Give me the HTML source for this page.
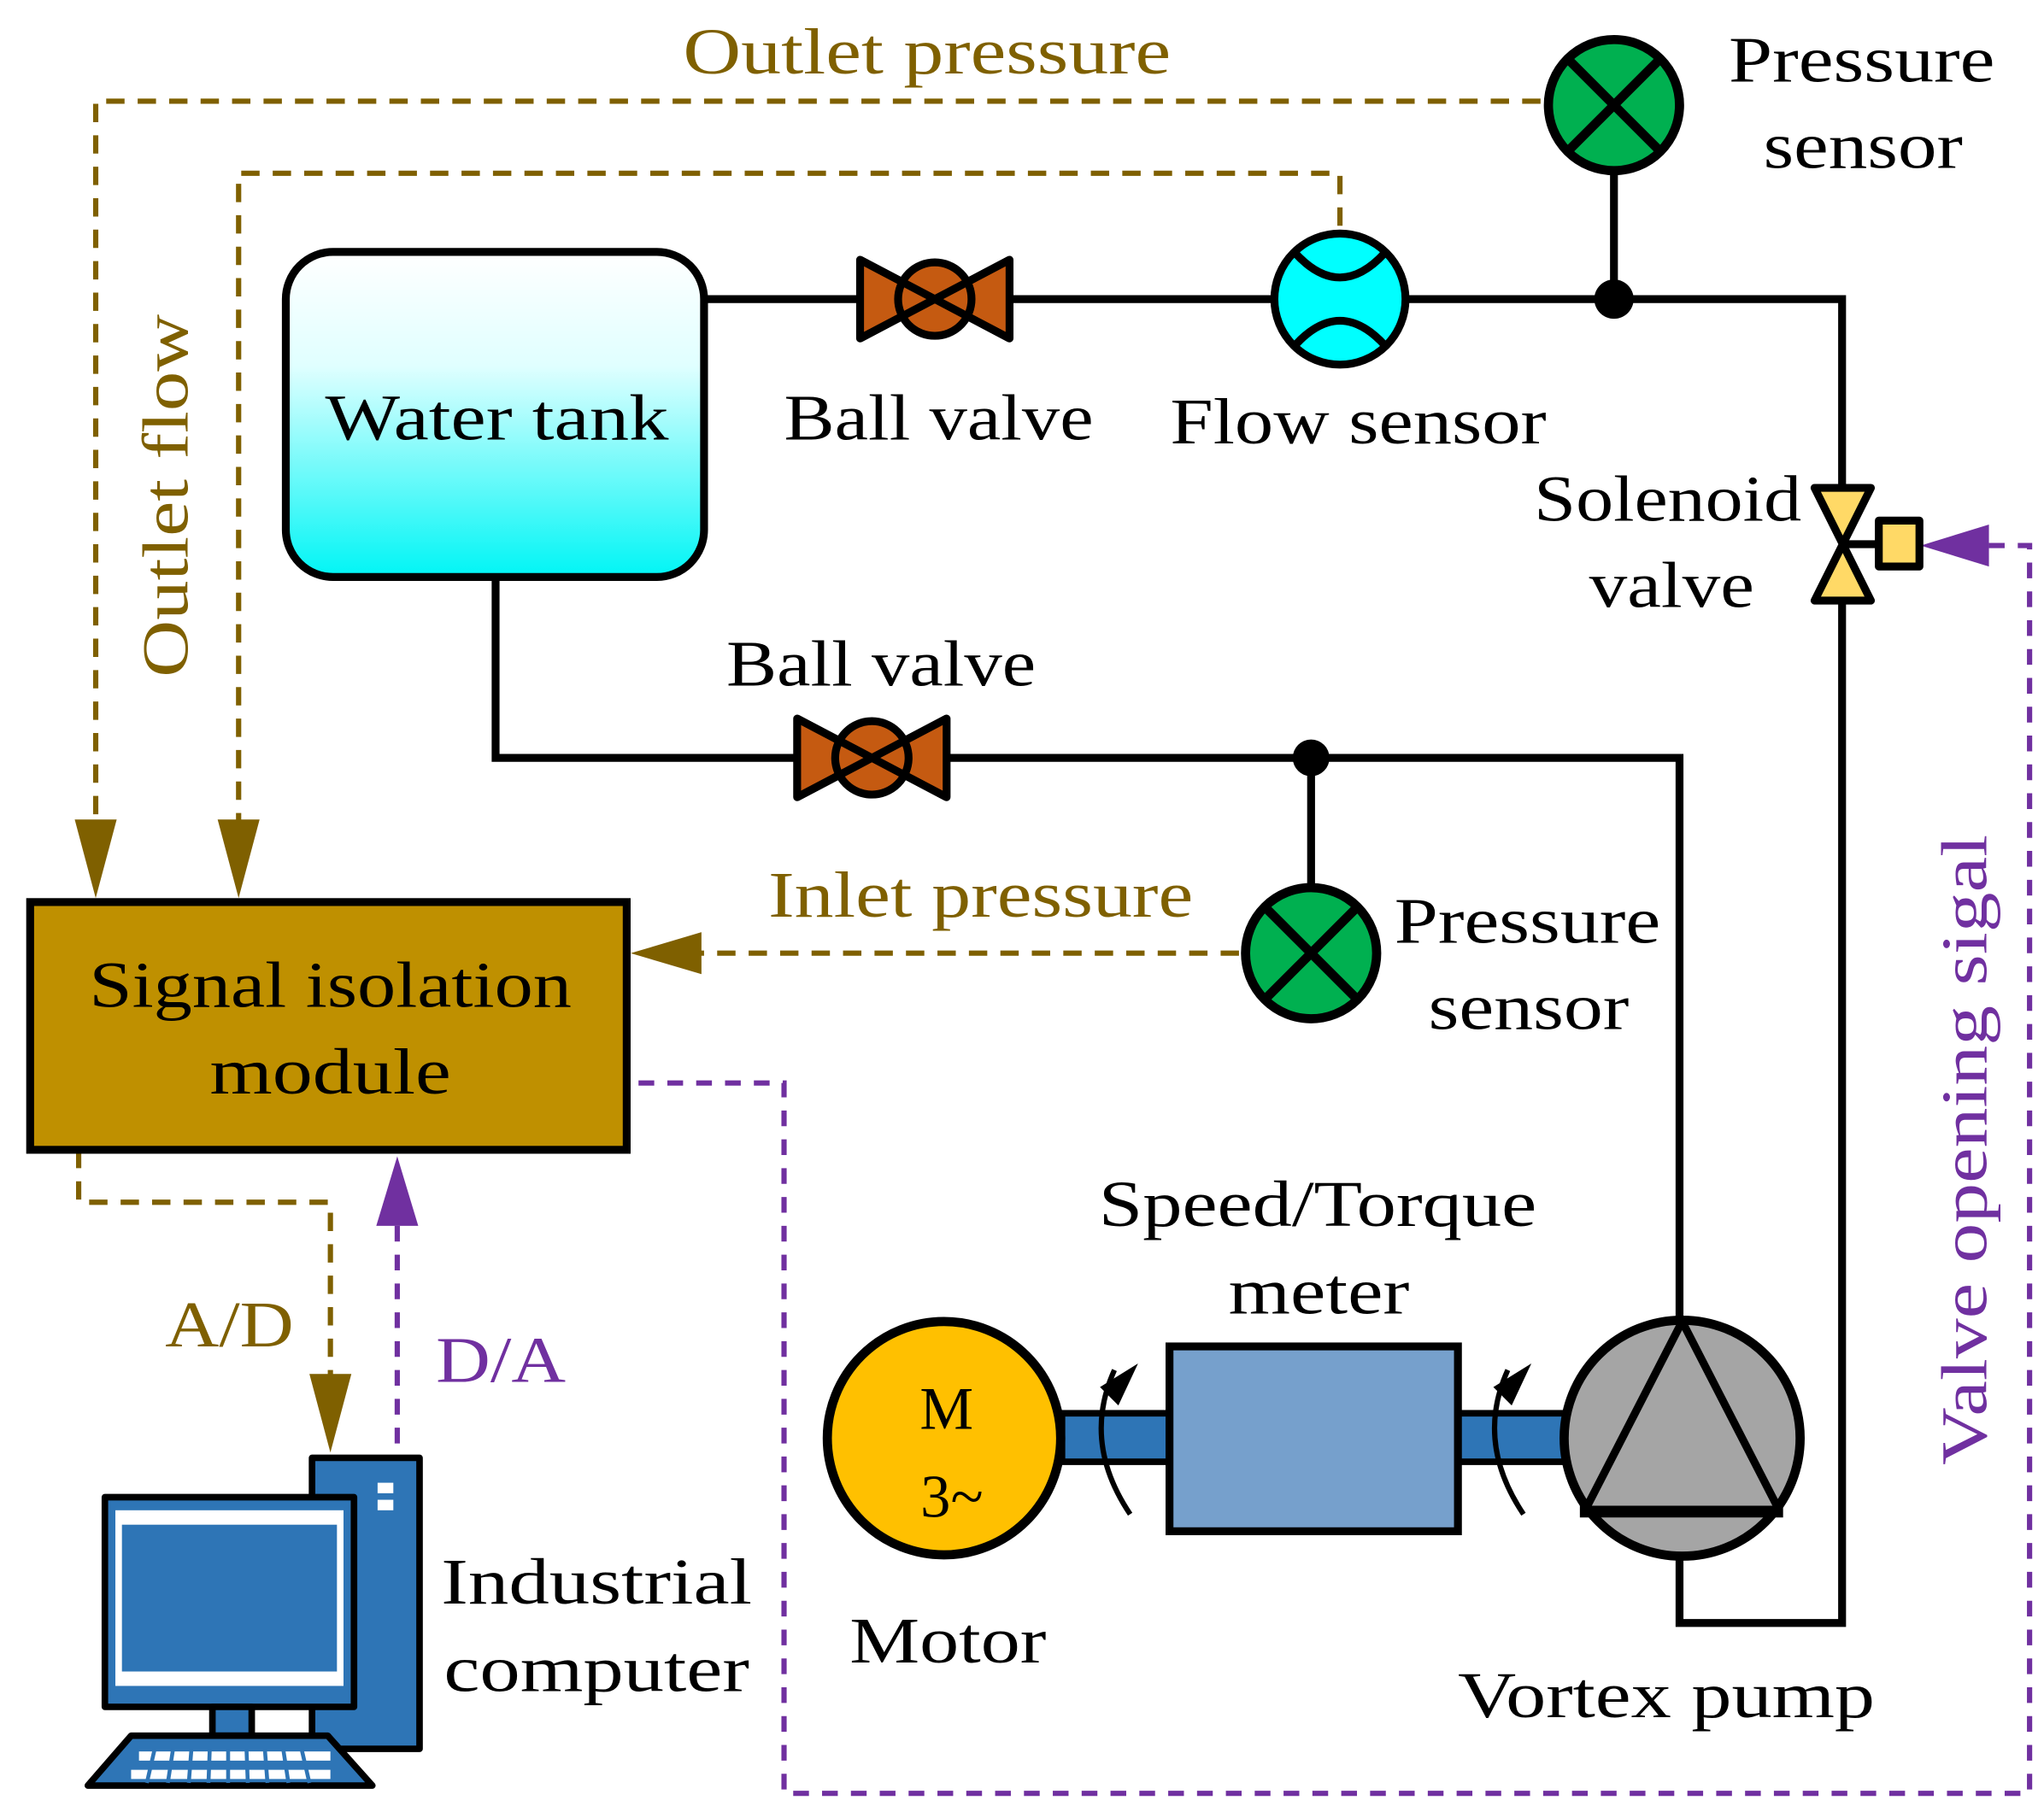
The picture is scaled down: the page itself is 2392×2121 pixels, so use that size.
<!DOCTYPE html>
<html><head><meta charset="utf-8"><style>
html,body{margin:0;padding:0;background:#fff;}
svg{display:block;}
text{font-family:"Liberation Serif",serif;}
</style></head><body>
<svg width="2392" height="2121" viewBox="0 0 1559 1382" xmlns="http://www.w3.org/2000/svg">
<defs>
<linearGradient id="tk" x1="0" y1="0" x2="0" y2="1">
<stop offset="0" stop-color="#ffffff"/><stop offset="0.35" stop-color="#e0ffff"/><stop offset="1" stop-color="#00f5f5"/>
</linearGradient>
</defs>
<g stroke="#000" stroke-width="6" fill="none" stroke-linejoin="miter">
<polyline points="537,228 1405,228 1405,370"/>
<polyline points="1405,460 1405,1238 1281,1238 1281,1190"/>
<polyline points="378,440 378,578 1281,578 1281,1005"/>
<line x1="1231" y1="228" x2="1231" y2="130"/>
<line x1="1000" y1="578" x2="1000" y2="676"/>
</g>
<circle cx="1231" cy="228" r="15" fill="#000"/>
<circle cx="1000" cy="578" r="14" fill="#000"/>

<g stroke="#7f6000" stroke-width="4" fill="none" stroke-dasharray="14,10">
<polyline points="1175,77 73,77 73,630"/>
<polyline points="1022,172 1022,132 182,132 182,630"/>
<line x1="945" y1="727" x2="530" y2="727"/>
<polyline points="60,877 60,917 252,917 252,1050"/>
</g>
<g fill="#7f6000">
<polygon points="57,625 89,625 73,685"/>
<polygon points="166,625 198,625 182,685"/>
<polygon points="535,711 535,743 481,727"/>
<polygon points="236,1048 268,1048 252,1108"/>
</g>
<g stroke="#7030a0" stroke-width="4" fill="none" stroke-dasharray="12,10">
<polyline points="1517,416 1548,416 1548,1368 598,1368 598,826 485,826"/>
<line x1="303" y1="935" x2="303" y2="1110"/>
</g>
<g fill="#7030a0">
<polygon points="1517,400 1517,432 1465,416"/>
<polygon points="287,935 319,935 303,882"/>
</g>

<rect x="218" y="192" width="319" height="248" rx="36" fill="url(#tk)" stroke="#000" stroke-width="6"/>

<g stroke="#000" stroke-width="6" stroke-linejoin="round" fill="#c55a11">
<polygon points="656,198 656,258 770,198 770,258"/>
<circle cx="713" cy="228" r="28"/>
<line x1="656" y1="198" x2="770" y2="258"/><line x1="656" y1="258" x2="770" y2="198"/>
</g>
<g stroke="#000" stroke-width="6" stroke-linejoin="round" fill="#c55a11">
<polygon points="608,548 608,608 722,548 722,608"/>
<circle cx="665" cy="578" r="28"/>
<line x1="608" y1="548" x2="722" y2="608"/><line x1="608" y1="608" x2="722" y2="548"/>
</g>
<g stroke="#000" stroke-width="6" fill="#00ffff">
<circle cx="1022" cy="228" r="50"/>
<path d="M988,193 Q1022,230 1056,193" fill="none"/>
<path d="M988,263 Q1022,226 1056,263" fill="none"/>
</g>
<g stroke="#000" stroke-width="7" fill="#00b050">
<circle cx="1231" cy="80" r="50"/>
<line x1="1196" y1="45" x2="1266" y2="115"/><line x1="1196" y1="115" x2="1266" y2="45"/>
<circle cx="1000" cy="727" r="50"/>
<line x1="965" y1="692" x2="1035" y2="762"/><line x1="965" y1="762" x2="1035" y2="692"/>
</g>
<g stroke="#000" stroke-width="6" stroke-linejoin="round" fill="#ffd966">
<polygon points="1384,372 1427,372 1384,458 1427,458"/>
<line x1="1405" y1="415" x2="1433" y2="415"/>
<rect x="1433" y="397" width="31" height="35"/>
</g>

<rect x="23" y="688" width="455" height="189" fill="#bf9000" stroke="#000" stroke-width="6"/>

<rect x="810" y="1078" width="385" height="37" fill="#2e75b6" stroke="#000" stroke-width="5"/>
<circle cx="720" cy="1097" r="89" fill="#ffc000" stroke="#000" stroke-width="7"/>
<rect x="892" y="1027" width="220" height="141" fill="#76a0cc" stroke="#000" stroke-width="6"/>
<g stroke="#000" stroke-width="4" fill="none">
<path d="M862,1155 Q825,1100 850,1045"/>
<path d="M1162,1155 Q1125,1100 1150,1045"/>
</g>
<polygon points="839,1058 868,1040 853,1072" fill="#000"/>
<polygon points="1139,1058 1168,1040 1153,1072" fill="#000"/>
<circle cx="1283" cy="1097" r="90" fill="#a5a5a5" stroke="#000" stroke-width="7"/>
<g stroke="#000" stroke-width="6" fill="none">
<polyline points="1210,1150 1283,1008 1356,1150"/>
<line x1="1205" y1="1153" x2="1360" y2="1153" stroke-width="9"/>
</g>

<g stroke="#000" stroke-width="5" stroke-linejoin="round">
<rect x="238" y="1112" width="82" height="222" fill="#2e75b6"/>
<rect x="80" y="1142" width="190" height="160" fill="#2e75b6"/>
<rect x="162" y="1302" width="30" height="22" fill="#2e75b6"/>
<polygon points="100,1324 250,1324 284,1362 67,1362" fill="#2e75b6"/>
</g>
<rect x="288" y="1131" width="12" height="8" fill="#fff"/>
<rect x="288" y="1144" width="12" height="8" fill="#fff"/>
<rect x="88" y="1152" width="174" height="134" fill="#fff"/>
<rect x="93" y="1163" width="164" height="112" fill="#2e75b6"/>
<g fill="#fff">
<rect x="106" y="1336" width="146" height="7"/>
<rect x="100" y="1350" width="152" height="7"/>
</g>
<g stroke="#2e75b6" stroke-width="3">
<line x1="118" y1="1334" x2="112" y2="1360"/><line x1="132" y1="1334" x2="128" y2="1360"/>
<line x1="146" y1="1334" x2="144" y2="1360"/><line x1="160" y1="1334" x2="159" y2="1360"/>
<line x1="174" y1="1334" x2="174" y2="1360"/><line x1="188" y1="1334" x2="189" y2="1360"/>
<line x1="202" y1="1334" x2="204" y2="1360"/><line x1="216" y1="1334" x2="220" y2="1360"/>
<line x1="230" y1="1334" x2="236" y2="1360"/>
</g>

<g font-size="50" fill="#000" text-anchor="middle" lengthAdjust="spacingAndGlyphs">
<text x="379" y="335" textLength="262" lengthAdjust="spacingAndGlyphs">Water tank</text>
<text x="252" y="768" textLength="368" lengthAdjust="spacingAndGlyphs">Signal isolation</text>
<text x="252" y="834" textLength="184" lengthAdjust="spacingAndGlyphs">module</text>
<text x="716" y="335" textLength="236" lengthAdjust="spacingAndGlyphs">Ball valve</text>
<text x="1036" y="338" textLength="287" lengthAdjust="spacingAndGlyphs">Flow sensor</text>
<text x="1420" y="62" textLength="203" lengthAdjust="spacingAndGlyphs">Pressure</text>
<text x="1421" y="128" textLength="152" lengthAdjust="spacingAndGlyphs">sensor</text>
<text x="1272" y="397" textLength="204" lengthAdjust="spacingAndGlyphs">Solenoid</text>
<text x="1275" y="463" textLength="126" lengthAdjust="spacingAndGlyphs">valve</text>
<text x="672" y="523" textLength="236" lengthAdjust="spacingAndGlyphs">Ball valve</text>
<text x="1165" y="719" textLength="203" lengthAdjust="spacingAndGlyphs">Pressure</text>
<text x="1166" y="785" textLength="153" lengthAdjust="spacingAndGlyphs">sensor</text>
<text x="1005" y="935" textLength="334" lengthAdjust="spacingAndGlyphs">Speed/Torque</text>
<text x="1006" y="1002" textLength="138" lengthAdjust="spacingAndGlyphs">meter</text>
<text x="723" y="1268" textLength="150" lengthAdjust="spacingAndGlyphs">Motor</text>
<text x="1271" y="1310" textLength="318" lengthAdjust="spacingAndGlyphs">Vortex pump</text>
<text x="455" y="1223" textLength="237" lengthAdjust="spacingAndGlyphs">Industrial</text>
<text x="455" y="1290" textLength="233" lengthAdjust="spacingAndGlyphs">computer</text>
<text x="722" y="1090" font-size="46">M</text>
<text x="726" y="1157" font-size="46">3~</text>
</g>
<g font-size="50" fill="#7f6000" text-anchor="middle">
<text x="707" y="56" textLength="372" lengthAdjust="spacingAndGlyphs">Outlet pressure</text>
<text x="748" y="699" textLength="324" lengthAdjust="spacingAndGlyphs">Inlet pressure</text>
<text x="175" y="1027" textLength="98" lengthAdjust="spacingAndGlyphs">A/D</text>
<text transform="translate(143,378) rotate(-90)" textLength="277" lengthAdjust="spacingAndGlyphs">Outlet flow</text>
</g>
<g font-size="50" fill="#7030a0" text-anchor="middle">
<text x="382" y="1054" textLength="99" lengthAdjust="spacingAndGlyphs">D/A</text>
<text transform="translate(1515,877) rotate(-90)" textLength="481" lengthAdjust="spacingAndGlyphs">Valve opening sigal</text>
</g>
</svg>
</body></html>
